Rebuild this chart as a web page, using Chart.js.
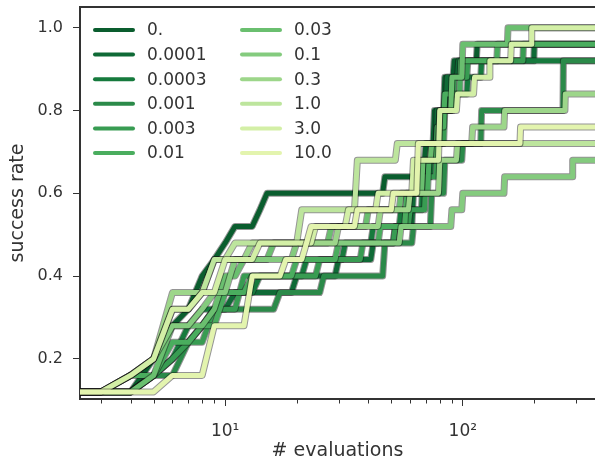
<!DOCTYPE html>
<html lang="en">
<head>
<meta charset="UTF-8">
<title>success rate vs # evaluations</title>
<script src="https://cdn.jsdelivr.net/npm/chart.js"></script>
<style>
  html, body { margin: 0; padding: 0; background: #fff; }
  #wrap { width: 595px; height: 462px; }
</style>
</head>
<body>
<div id="wrap"><canvas id="chart" width="595" height="462"></canvas></div>
<script>
// legend labels (regularisation strength) and their colours
const labels = ['0.', '0.0001', '0.0003', '0.001', '0.003', '0.01', '0.03', '0.1', '0.3', '1.0', '3.0', '10.0'];
const colors = ['#0a5d2e', '#0f6a36', '#167a3d', '#2b8a49', '#389c52', '#4aad5e',
                '#6abf6f', '#84cb7e', '#9dd68a', '#bde59d', '#d3efa6', '#e3f4ae'];

// success rate steps: [evaluation where the rate changes, new rate]
const steps_0      = [[1, .12], [5, .2], [6, .28], [7, .32], [8, .4], [9, .44], [10, .48], [11, .52], [14, .56], [15, .6], [47, .64], [64, .68], [70, .72], [76, .8], [84, .88], [92, .92], [115, .96]];
const steps_0_0001 = [[1, .12], [5, .16], [6, .2], [7, .24], [8, .28], [9, .32], [11, .36], [20, .4], [30, .44], [42, .48], [52, .52], [62, .6], [70, .68], [78, .8], [86, .88], [96, .92], [200, .96]];
const steps_0_0003 = [[1, .12], [5, .16], [6, .2], [7, .28], [8, .32], [10, .36], [14, .4], [22, .44], [32, .48], [42, .52], [55, .56], [68, .64], [74, .72], [82, .8], [90, .84], [105, .88], [120, .92]];
const steps_0_001  = [[1, .12], [5, .16], [7, .24], [8, .28], [9, .32], [17, .36], [26, .4], [47, .48], [62, .52], [74, .6], [84, .68], [100, .72], [120, .8], [265, .92]];
const steps_0_003  = [[1, .12], [5, .16], [6, .2], [7, .24], [9, .32], [12, .4], [25, .44], [38, .48], [52, .52], [60, .56], [70, .64], [78, .72], [84, .8], [92, .88], [105, .92], [180, .96]];
const steps_0_01   = [[1, .12], [4, .16], [6, .24], [8, .28], [10, .36], [13, .4], [20, .44], [30, .48], [45, .52], [58, .6], [72, .68], [78, .76], [84, .84], [98, .92], [140, .96]];
const steps_0_03   = [[1, .12], [5, .16], [6, .28], [9, .32], [10, .4], [12, .44], [16, .48], [28, .52], [40, .56], [55, .6], [68, .68], [74, .72], [80, .8], [90, .88], [100, .96], [155, 1.0]];
const steps_0_1    = [[1, .12], [4, .16], [5, .2], [6, .28], [8, .32], [9, .36], [11, .44], [20, .48], [55, .52], [90, .56], [100, .6], [150, .64], [290, .68]];
const steps_0_3    = [[1, .12], [4, .16], [5, .2], [6, .36], [9, .44], [13, .48], [30, .52], [45, .56], [60, .6], [80, .68], [95, .72], [110, .76], [150, .8], [270, .84]];
const steps_1_0    = [[1, .12], [4, .16], [5, .2], [6, .32], [8, .36], [9, .44], [11, .48], [21, .56], [36, .68], [53, .72]];
const steps_3_0    = [[1, .12], [4, .16], [5, .2], [6, .32], [8, .36], [10, .44], [14, .48], [24, .52], [33, .56], [44, .6], [62, .68], [80, .8], [95, .84], [112, .88], [130, .92], [160, .96], [195, 1.0]];
const steps_10_0   = [[1, .12], [6, .16], [9, .28], [13, .4], [18, .44], [22, .48], [23, .52], [36, .56], [51, .6], [65, .72], [175, .76]];

const allSteps = [steps_0, steps_0_0001, steps_0_0003, steps_0_001, steps_0_003, steps_0_01,
                  steps_0_03, steps_0_1, steps_0_3, steps_1_0, steps_3_0, steps_10_0];
const maxEvals = 360;

// axis ticks
const xTicks = [3, 4, 5, 6, 7, 8, 9, 10, 20, 30, 40, 50, 60, 70, 80, 90, 100, 200, 300];
const xMajor = [10, 100];
const xLabels = {10: '10\u00b9', 100: '10\u00b2'};
const yTicks = [0.2, 0.4, 0.6, 0.8, 1.0];

// the rate holds its old value until the evaluation before each change
function toPoints(steps) {
    const pts = [{x: steps[0][0], y: steps[0][1]}];
    for (let i = 1; i < steps.length; i++) {
        pts.push({x: steps[i][0] - 1, y: steps[i - 1][1]});
        pts.push({x: steps[i][0], y: steps[i][1]});
    }
    pts.push({x: maxEvals, y: steps[steps.length - 1][1]});
    return pts;
}

const n = allSteps.length;
const datasets = [];
allSteps.forEach((steps, i) => {
    const pts = toPoints(steps);
    // dark edge under each curve, then the curve itself; later curves sit on top
    datasets.push({
        data: pts, isOutline: true,
        borderColor: 'rgba(20,20,20,0.45)', borderWidth: 7,
        order: 2 * (n - 1 - i) + 1
    });
    datasets.push({
        label: labels[i], data: pts,
        borderColor: colors[i], borderWidth: 5,
        order: 2 * (n - 1 - i)
    });
});

const textColor = '#333';
Chart.defaults.font.family = "'DejaVu Sans', sans-serif";
Chart.defaults.color = textColor;

const extras = {
    id: 'extras',
    afterDraw(chart) {
        const ctx = chart.ctx;
        const area = chart.chartArea;
        const xs = chart.scales.x;
        ctx.save();
        // minor ticks on the log axis
        ctx.strokeStyle = textColor;
        ctx.lineWidth = 1;
        xTicks.forEach(v => {
            if (xMajor.includes(v)) return;
            const px = Math.round(xs.getPixelForValue(v)) + 0.5;
            ctx.beginPath();
            ctx.moveTo(px, area.bottom);
            ctx.lineTo(px, area.bottom + 4.5);
            ctx.stroke();
        });
        // top spine
        ctx.lineWidth = 2;
        ctx.beginPath();
        ctx.moveTo(area.left - 1, area.top);
        ctx.lineTo(area.right, area.top);
        ctx.stroke();

        // two-column legend
        const items = chart.data.datasets.filter(d => !d.isOutline);
        ctx.font = "17px 'DejaVu Sans'";
        ctx.textBaseline = 'middle';
        ctx.fillStyle = textColor;
        ctx.lineCap = 'round';
        items.forEach((d, i) => {
            const col = Math.floor(i / 6), row = i % 6;
            const x0 = area.left + 15 + col * 147;
            const y = area.top + 23 + row * 24.6;
            ctx.strokeStyle = d.borderColor;
            ctx.lineWidth = 4;
            ctx.beginPath();
            ctx.moveTo(x0, y);
            ctx.lineTo(x0 + 38, y);
            ctx.stroke();
            ctx.fillText(d.label, x0 + 52, y + 1);
        });
        ctx.restore();
    }
};

new Chart(document.getElementById('chart'), {
    type: 'line',
    data: {datasets: datasets},
    options: {
        responsive: false,
        animation: false,
        layout: {padding: {top: 7, right: 0, bottom: 0, left: 0}},
        elements: {
            line: {tension: 0, borderJoinStyle: 'round', borderCapStyle: 'butt'},
            point: {radius: 0}
        },
        plugins: {legend: {display: false}, tooltip: {enabled: false}},
        scales: {
            x: {
                type: 'logarithmic',
                min: 2.45, max: maxEvals,
                afterBuildTicks: s => { s.ticks = xTicks.map(v => ({value: v})); },
                afterFit: s => { s.height = 63; s.paddingLeft = 0; s.paddingRight = 0; },
                border: {display: true, color: textColor, width: 2},
                grid: {
                    drawOnChartArea: false, tickLength: 7, tickWidth: 1,
                    tickColor: c => (c.tick && xMajor.includes(c.tick.value)) ? textColor : 'rgba(0,0,0,0)'
                },
                ticks: {
                    autoSkip: false, maxRotation: 0, padding: 15,
                    font: {size: 17}, color: textColor,
                    callback: v => xLabels[v] || ''
                },
                title: {display: true, text: '# evaluations', font: {size: 19}, color: textColor, padding: {top: 0, bottom: 0}}
            },
            y: {
                min: 0.103, max: 1.05,
                afterBuildTicks: s => { s.ticks = yTicks.map(v => ({value: v})); },
                afterFit: s => { s.width = 80; s.paddingTop = 0; s.paddingBottom = 0; },
                border: {display: true, color: textColor, width: 2},
                grid: {drawOnChartArea: false, tickLength: 7, tickWidth: 1, tickColor: textColor},
                ticks: {padding: 10, font: {size: 16}, color: textColor, callback: v => v.toFixed(1)},
                title: {display: true, text: 'success rate', font: {size: 19}, color: textColor, padding: {top: 7, bottom: 0}}
            }
        }
    },
    plugins: [extras]
});
</script>
</body>
</html>
